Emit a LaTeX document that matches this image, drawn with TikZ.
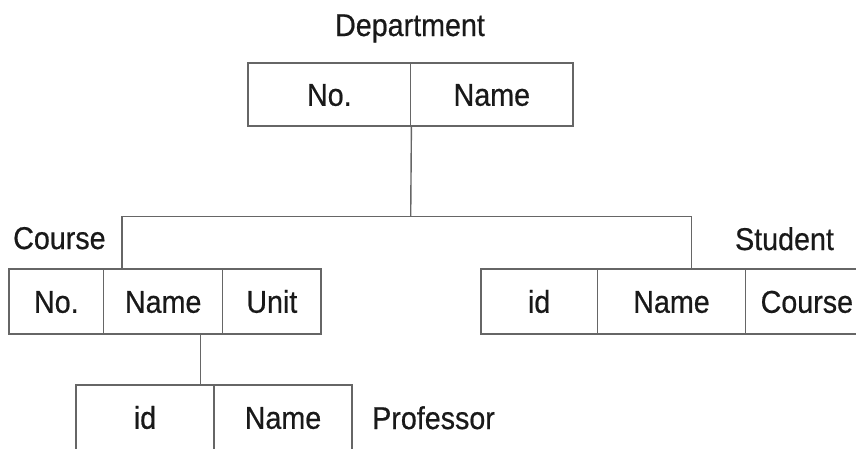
\documentclass[tikz,border=0pt]{standalone}
\usepackage{fontspec}
\setmainfont{Liberation Sans}[FakeStretch=0.91, FakeBold=0.6]
\begin{document}
\begin{tikzpicture}[x=1pt,y=-1pt,
  every node/.style={font=\fontsize{31.5}{33}\selectfont, text=black!90},
  cell/.style={draw=black!60, line width=1.4pt, rectangle, inner sep=0pt,
               minimum height=65pt, text height=22.5pt, text depth=0pt},
  link/.style={draw=black!60, line width=1.4pt},
  title/.style={inner sep=0pt, anchor=base}]
\path[use as bounding box] (0,0) rectangle (856,448);
\clip (0,0) rectangle (856,448);

% Department table
\node[cell, minimum width=162.7pt, minimum height=63pt] (dno)   at (329.35,94.5) {No.};
\node[cell, minimum width=162.3pt, minimum height=63pt] (dname) at (491.85,94.5) {Name};
\node[title] (dtitle) at (410,36) {Department};

% Course table
\node[cell, minimum width=94.7pt]  (cno)   at (56.35,301.5)  {No.};
\node[cell, minimum width=119pt]   (cname) at (163.2,301.5)  {Name};
\node[cell, minimum width=98.3pt]  (cunit) at (271.85,301.5) {Unit};
\node[title, anchor=base west] (ctitle) at (13,249) {Course};

% Student table
\node[cell, minimum width=116.3pt] (sid)     at (539.15,301.5) {id};
\node[cell, minimum width=148.4pt] (sname)   at (671.5,301.5)  {Name};
\node[cell, minimum width=122.3pt] (scourse) at (806.85,301.5) {Course};
\node[title] (stitle) at (784.5,250) {Student};

% Professor table
\node[cell, minimum width=138pt] (pid)   at (145,417.5) {id};
\node[cell, minimum width=138pt] (pname) at (283,417.5) {Name};
\node[title, anchor=base west] (ptitle) at (372,429) {Professor};

% Connectors
\coordinate (split) at (410.7,216.5);
\coordinate (cj) at (122,216.5);
\coordinate (sj) at (691.7,216.5);
\coordinate (pj) at (200.7,0);
\draw[link] (dno.south east) -- (split);
\draw[link] (cj |- cname.north) -- (cj) -- (sj) -- (sj |- sname.north);
\draw[link] (cname.south -| pj) -- (pid.north -| pj);
\end{tikzpicture}
\end{document}
